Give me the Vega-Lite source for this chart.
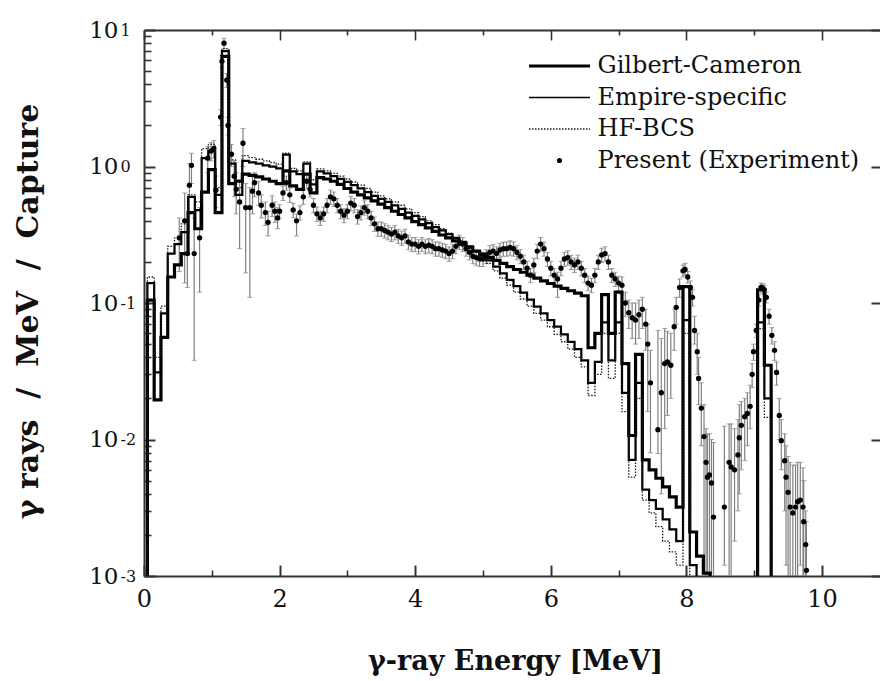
{
"$schema": "https://vega.github.io/schema/vega-lite/v6.json",
"width": 738, "height": 546,
"autosize": {"type": "none"},
"padding": {"left": 144, "top": 30, "right": 0, "bottom": 105},
"background": "white",
"config": {"view": {"stroke": null}, "font": "DejaVu Serif",
 "axis": {"domainColor": "#333", "tickColor": "#333", "domainWidth": 2, "tickWidth": 1.6, "labelColor": "#111", "labelFont": "DejaVu Serif", "titleFont": "DejaVu Serif", "titleColor": "#111", "grid": false, "labelFlush": false, "labelOverlap": false}},
"datasets": {
"m": [
{"E":0,"gc":0.0003,"em":0.0003,"hf":0.0003},
{"E":0.05,"gc":0.105,"em":0.14,"hf":0.155},
{"E":0.15,"gc":0.0195,"em":0.031,"hf":0.04},
{"E":0.25,"gc":0.056,"em":0.084,"hf":0.095},
{"E":0.35,"gc":0.155,"em":0.23,"hf":0.26},
{"E":0.45,"gc":0.19,"em":0.27,"hf":0.3},
{"E":0.55,"gc":0.23,"em":0.33,"hf":0.38},
{"E":0.65,"gc":0.46,"em":0.6,"hf":0.62},
{"E":0.75,"gc":0.35,"em":0.48,"hf":0.55},
{"E":0.85,"gc":0.65,"em":1.15,"hf":1.35},
{"E":0.95,"gc":0.95,"em":1.3,"hf":1.45},
{"E":1.05,"gc":0.46,"em":0.62,"hf":0.7},
{"E":1.15,"gc":6.4,"em":7.0,"hf":7.3},
{"E":1.25,"gc":0.75,"em":1.05,"hf":1.12},
{"E":1.35,"gc":0.78,"em":0.62,"hf":0.7},
{"E":1.45,"gc":0.88,"em":1.1,"hf":1.2},
{"E":1.55,"gc":0.86,"em":1.07,"hf":1.16},
{"E":1.65,"gc":0.84,"em":1.05,"hf":1.13},
{"E":1.75,"gc":0.81,"em":1.02,"hf":1.1},
{"E":1.85,"gc":0.78,"em":1.0,"hf":1.07},
{"E":1.95,"gc":0.75,"em":0.97,"hf":1.04},
{"E":2.05,"gc":0.93,"em":1.22,"hf":1.25},
{"E":2.15,"gc":0.72,"em":0.92,"hf":0.97},
{"E":2.25,"gc":0.68,"em":0.88,"hf":0.93},
{"E":2.35,"gc":0.88,"em":1.05,"hf":1.08},
{"E":2.45,"gc":0.64,"em":0.74,"hf":0.8},
{"E":2.55,"gc":0.83,"em":0.92,"hf":0.96},
{"E":2.65,"gc":0.81,"em":0.89,"hf":0.93},
{"E":2.75,"gc":0.78,"em":0.85,"hf":0.89},
{"E":2.85,"gc":0.74,"em":0.81,"hf":0.85},
{"E":2.95,"gc":0.69,"em":0.77,"hf":0.81},
{"E":3.05,"gc":0.65,"em":0.73,"hf":0.77},
{"E":3.15,"gc":0.62,"em":0.69,"hf":0.73},
{"E":3.25,"gc":0.59,"em":0.65,"hf":0.69},
{"E":3.35,"gc":0.56,"em":0.61,"hf":0.65},
{"E":3.45,"gc":0.53,"em":0.58,"hf":0.61},
{"E":3.55,"gc":0.5,"em":0.55,"hf":0.58},
{"E":3.65,"gc":0.47,"em":0.52,"hf":0.55},
{"E":3.75,"gc":0.445,"em":0.49,"hf":0.52},
{"E":3.85,"gc":0.42,"em":0.46,"hf":0.49},
{"E":3.95,"gc":0.395,"em":0.435,"hf":0.46},
{"E":4.05,"gc":0.375,"em":0.41,"hf":0.43},
{"E":4.15,"gc":0.355,"em":0.385,"hf":0.4},
{"E":4.25,"gc":0.335,"em":0.36,"hf":0.375},
{"E":4.35,"gc":0.315,"em":0.34,"hf":0.35},
{"E":4.45,"gc":0.3,"em":0.32,"hf":0.325},
{"E":4.55,"gc":0.285,"em":0.3,"hf":0.3},
{"E":4.65,"gc":0.27,"em":0.28,"hf":0.28},
{"E":4.75,"gc":0.255,"em":0.26,"hf":0.255},
{"E":4.85,"gc":0.24,"em":0.24,"hf":0.235},
{"E":4.95,"gc":0.228,"em":0.222,"hf":0.215},
{"E":5.05,"gc":0.216,"em":0.205,"hf":0.195},
{"E":5.15,"gc":0.205,"em":0.185,"hf":0.172},
{"E":5.25,"gc":0.195,"em":0.165,"hf":0.152},
{"E":5.35,"gc":0.185,"em":0.148,"hf":0.135},
{"E":5.45,"gc":0.176,"em":0.133,"hf":0.12},
{"E":5.55,"gc":0.168,"em":0.119,"hf":0.107},
{"E":5.65,"gc":0.16,"em":0.106,"hf":0.095},
{"E":5.75,"gc":0.152,"em":0.094,"hf":0.084},
{"E":5.85,"gc":0.145,"em":0.084,"hf":0.075},
{"E":5.95,"gc":0.139,"em":0.075,"hf":0.067},
{"E":6.05,"gc":0.133,"em":0.067,"hf":0.059},
{"E":6.15,"gc":0.128,"em":0.059,"hf":0.052},
{"E":6.25,"gc":0.123,"em":0.052,"hf":0.046},
{"E":6.35,"gc":0.118,"em":0.046,"hf":0.04},
{"E":6.45,"gc":0.113,"em":0.038,"hf":0.034},
{"E":6.55,"gc":0.047,"em":0.026,"hf":0.021},
{"E":6.65,"gc":0.06,"em":0.037,"hf":0.03},
{"E":6.75,"gc":0.115,"em":0.072,"hf":0.06},
{"E":6.85,"gc":0.06,"em":0.038,"hf":0.028},
{"E":6.95,"gc":0.12,"em":0.072,"hf":0.06},
{"E":7.05,"gc":0.036,"em":0.022,"hf":0.016},
{"E":7.15,"gc":0.0107,"em":0.0071,"hf":0.0053},
{"E":7.25,"gc":0.042,"em":0.026,"hf":0.02},
{"E":7.35,"gc":0.0071,"em":0.0043,"hf":0.0036},
{"E":7.45,"gc":0.006,"em":0.0036,"hf":0.0029},
{"E":7.55,"gc":0.0052,"em":0.0031,"hf":0.0023},
{"E":7.65,"gc":0.0045,"em":0.0026,"hf":0.0018},
{"E":7.75,"gc":0.0038,"em":0.0022,"hf":0.0015},
{"E":7.85,"gc":0.0032,"em":0.0018,"hf":0.0012},
{"E":7.95,"gc":0.132,"em":0.075,"hf":0.06},
{"E":8.05,"gc":0.0021,"em":0.0012,"hf":0.0009},
{"E":8.15,"gc":0.0014,"em":0.0003,"hf":0.0003},
{"E":8.25,"gc":0.00105,"em":0.0003,"hf":0.0003},
{"E":8.35,"gc":0.0003,"em":0.0003,"hf":0.0003},
{"E":9.05,"gc":0.125,"em":0.072,"hf":0.065},
{"E":9.15,"gc":0.035,"em":0.02,"hf":0.0145},
{"E":9.25,"gc":0.0003,"em":0.0003,"hf":0.0003},
{"E":10.5,"gc":0.0003,"em":0.0003,"hf":0.0003}
],
"e": [
{"E":0.52,"v":0.3,"lo":0.17,"hi":0.42},
{"E":0.6,"v":0.4,"lo":0.14,"hi":0.64},
{"E":0.64,"v":0.23,"lo":0.13,"hi":0.33},
{"E":0.67,"v":0.73,"lo":0.45,"hi":1.05},
{"E":0.7,"v":1.02,"lo":0.75,"hi":1.25},
{"E":0.74,"v":0.23,"lo":0.038,"hi":0.42},
{"E":0.82,"v":0.3,"lo":0.12,"hi":0.5},
{"E":0.94,"v":1.15,"lo":0.9,"hi":1.4},
{"E":0.99,"v":1.3,"lo":1.1,"hi":1.5},
{"E":1.03,"v":1.36,"lo":1.15,"hi":1.55},
{"E":1.06,"v":0.67,"lo":0.5,"hi":0.85},
{"E":1.13,"v":2.3,"lo":2.0,"hi":2.6},
{"E":1.15,"v":5.9,"lo":5.3,"hi":6.5},
{"E":1.18,"v":8.0,"lo":7.3,"hi":8.7},
{"E":1.22,"v":4.3,"lo":3.8,"hi":4.8},
{"E":1.24,"v":2.0,"lo":1.7,"hi":2.3},
{"E":1.29,"v":1.23,"lo":1.0,"hi":1.45},
{"E":1.33,"v":0.85,"lo":0.6,"hi":1.1},
{"E":1.36,"v":0.68,"lo":0.45,"hi":0.9},
{"E":1.41,"v":0.55,"lo":0.25,"hi":0.8},
{"E":1.46,"v":1.48,"lo":1.0,"hi":1.9},
{"E":1.5,"v":0.5,"lo":0.166,"hi":0.75},
{"E":1.56,"v":0.5,"lo":0.11,"hi":0.7},
{"E":1.6,"v":0.66,"lo":0.45,"hi":0.85},
{"E":1.63,"v":0.76,"lo":0.6,"hi":0.9},
{"E":1.69,"v":0.64,"lo":0.52,"hi":0.78},
{"E":1.73,"v":0.52,"lo":0.42,"hi":0.62},
{"E":1.79,"v":0.46,"lo":0.37,"hi":0.55},
{"E":1.83,"v":0.39,"lo":0.31,"hi":0.47},
{"E":1.89,"v":0.52,"lo":0.43,"hi":0.61},
{"E":1.93,"v":0.47,"lo":0.39,"hi":0.55},
{"E":1.97,"v":0.42,"lo":0.35,"hi":0.5},
{"E":2.0,"v":0.47,"lo":0.414,"hi":0.526},
{"E":2.05,"v":0.64,"lo":0.563,"hi":0.717},
{"E":2.1,"v":0.76,"lo":0.669,"hi":0.851},
{"E":2.15,"v":0.62,"lo":0.546,"hi":0.694},
{"E":2.2,"v":0.48,"lo":0.422,"hi":0.538},
{"E":2.25,"v":0.4,"lo":0.31,"hi":0.448},
{"E":2.3,"v":0.46,"lo":0.405,"hi":0.515},
{"E":2.35,"v":0.6,"lo":0.528,"hi":0.672},
{"E":2.4,"v":0.78,"lo":0.686,"hi":0.874},
{"E":2.45,"v":0.68,"lo":0.598,"hi":0.762},
{"E":2.5,"v":0.52,"lo":0.458,"hi":0.582},
{"E":2.55,"v":0.45,"lo":0.396,"hi":0.504},
{"E":2.6,"v":0.42,"lo":0.37,"hi":0.47},
{"E":2.65,"v":0.45,"lo":0.396,"hi":0.504},
{"E":2.7,"v":0.52,"lo":0.458,"hi":0.582},
{"E":2.75,"v":0.6,"lo":0.528,"hi":0.672},
{"E":2.8,"v":0.58,"lo":0.51,"hi":0.65},
{"E":2.85,"v":0.52,"lo":0.458,"hi":0.582},
{"E":2.9,"v":0.47,"lo":0.414,"hi":0.526},
{"E":2.95,"v":0.44,"lo":0.387,"hi":0.493},
{"E":3.0,"v":0.47,"lo":0.414,"hi":0.526},
{"E":3.05,"v":0.54,"lo":0.475,"hi":0.605},
{"E":3.1,"v":0.52,"lo":0.458,"hi":0.582},
{"E":3.15,"v":0.43,"lo":0.378,"hi":0.482},
{"E":3.2,"v":0.46,"lo":0.405,"hi":0.515},
{"E":3.25,"v":0.5,"lo":0.44,"hi":0.56},
{"E":3.3,"v":0.47,"lo":0.414,"hi":0.526},
{"E":3.35,"v":0.42,"lo":0.37,"hi":0.47},
{"E":3.4,"v":0.38,"lo":0.334,"hi":0.426},
{"E":3.45,"v":0.35,"lo":0.308,"hi":0.392},
{"E":3.5,"v":0.35,"lo":0.308,"hi":0.392},
{"E":3.55,"v":0.34,"lo":0.299,"hi":0.381},
{"E":3.6,"v":0.33,"lo":0.29,"hi":0.37},
{"E":3.65,"v":0.32,"lo":0.282,"hi":0.358},
{"E":3.7,"v":0.33,"lo":0.29,"hi":0.37},
{"E":3.75,"v":0.31,"lo":0.273,"hi":0.347},
{"E":3.8,"v":0.3,"lo":0.264,"hi":0.336},
{"E":3.85,"v":0.31,"lo":0.273,"hi":0.347},
{"E":3.9,"v":0.28,"lo":0.246,"hi":0.314},
{"E":3.95,"v":0.27,"lo":0.238,"hi":0.302},
{"E":4.0,"v":0.27,"lo":0.238,"hi":0.302},
{"E":4.05,"v":0.26,"lo":0.229,"hi":0.291},
{"E":4.1,"v":0.27,"lo":0.238,"hi":0.302},
{"E":4.15,"v":0.26,"lo":0.229,"hi":0.291},
{"E":4.2,"v":0.265,"lo":0.233,"hi":0.297},
{"E":4.25,"v":0.26,"lo":0.229,"hi":0.291},
{"E":4.3,"v":0.25,"lo":0.22,"hi":0.28},
{"E":4.35,"v":0.25,"lo":0.22,"hi":0.28},
{"E":4.4,"v":0.245,"lo":0.216,"hi":0.274},
{"E":4.45,"v":0.24,"lo":0.211,"hi":0.269},
{"E":4.5,"v":0.23,"lo":0.202,"hi":0.258},
{"E":4.55,"v":0.24,"lo":0.211,"hi":0.269},
{"E":4.6,"v":0.26,"lo":0.229,"hi":0.291},
{"E":4.65,"v":0.28,"lo":0.246,"hi":0.314},
{"E":4.7,"v":0.27,"lo":0.238,"hi":0.302},
{"E":4.75,"v":0.25,"lo":0.22,"hi":0.28},
{"E":4.8,"v":0.235,"lo":0.207,"hi":0.263},
{"E":4.85,"v":0.22,"lo":0.194,"hi":0.246},
{"E":4.9,"v":0.215,"lo":0.189,"hi":0.241},
{"E":4.95,"v":0.21,"lo":0.185,"hi":0.235},
{"E":5.0,"v":0.21,"lo":0.185,"hi":0.235},
{"E":5.05,"v":0.22,"lo":0.194,"hi":0.246},
{"E":5.1,"v":0.235,"lo":0.207,"hi":0.263},
{"E":5.15,"v":0.24,"lo":0.211,"hi":0.269},
{"E":5.2,"v":0.23,"lo":0.202,"hi":0.258},
{"E":5.25,"v":0.245,"lo":0.216,"hi":0.274},
{"E":5.3,"v":0.25,"lo":0.22,"hi":0.28},
{"E":5.35,"v":0.25,"lo":0.22,"hi":0.28},
{"E":5.4,"v":0.255,"lo":0.224,"hi":0.286},
{"E":5.45,"v":0.25,"lo":0.22,"hi":0.28},
{"E":5.5,"v":0.235,"lo":0.207,"hi":0.263},
{"E":5.55,"v":0.22,"lo":0.194,"hi":0.246},
{"E":5.6,"v":0.2,"lo":0.176,"hi":0.224},
{"E":5.65,"v":0.18,"lo":0.158,"hi":0.202},
{"E":5.7,"v":0.16,"lo":0.141,"hi":0.179},
{"E":5.75,"v":0.19,"lo":0.167,"hi":0.213},
{"E":5.8,"v":0.24,"lo":0.211,"hi":0.269},
{"E":5.85,"v":0.27,"lo":0.238,"hi":0.302},
{"E":5.9,"v":0.25,"lo":0.22,"hi":0.28},
{"E":5.95,"v":0.21,"lo":0.185,"hi":0.235},
{"E":6.0,"v":0.18,"lo":0.158,"hi":0.202},
{"E":6.05,"v":0.16,"lo":0.141,"hi":0.179},
{"E":6.1,"v":0.15,"lo":0.11,"hi":0.168},
{"E":6.15,"v":0.18,"lo":0.158,"hi":0.202},
{"E":6.2,"v":0.21,"lo":0.185,"hi":0.235},
{"E":6.25,"v":0.215,"lo":0.189,"hi":0.241},
{"E":6.3,"v":0.2,"lo":0.176,"hi":0.224},
{"E":6.35,"v":0.19,"lo":0.167,"hi":0.213},
{"E":6.4,"v":0.2,"lo":0.176,"hi":0.224},
{"E":6.45,"v":0.18,"lo":0.158,"hi":0.202},
{"E":6.5,"v":0.16,"lo":0.141,"hi":0.179},
{"E":6.55,"v":0.14,"lo":0.123,"hi":0.157},
{"E":6.6,"v":0.135,"lo":0.119,"hi":0.151},
{"E":6.65,"v":0.16,"lo":0.141,"hi":0.179},
{"E":6.7,"v":0.2,"lo":0.176,"hi":0.224},
{"E":6.75,"v":0.225,"lo":0.198,"hi":0.252},
{"E":6.8,"v":0.23,"lo":0.202,"hi":0.258},
{"E":6.85,"v":0.2,"lo":0.176,"hi":0.224},
{"E":6.9,"v":0.16,"lo":0.141,"hi":0.179},
{"E":6.95,"v":0.15,"lo":0.132,"hi":0.168},
{"E":7.0,"v":0.14,"lo":0.123,"hi":0.157},
{"E":7.05,"v":0.135,"lo":0.115,"hi":0.155},
{"E":7.1,"v":0.1,"lo":0.08,"hi":0.12},
{"E":7.15,"v":0.085,"lo":0.065,"hi":0.105},
{"E":7.2,"v":0.078,"lo":0.055,"hi":0.1},
{"E":7.25,"v":0.075,"lo":0.05,"hi":0.1},
{"E":7.3,"v":0.082,"lo":0.055,"hi":0.105},
{"E":7.35,"v":0.09,"lo":0.065,"hi":0.11},
{"E":7.4,"v":0.07,"lo":0.045,"hi":0.09},
{"E":7.43,"v":0.05,"lo":0.016,"hi":0.07},
{"E":7.47,"v":0.026,"lo":0.008,"hi":0.045},
{"E":7.58,"v":0.0118,"lo":0.0079,"hi":0.063},
{"E":7.63,"v":0.022,"lo":0.004,"hi":0.055},
{"E":7.68,"v":0.036,"lo":0.012,"hi":0.065},
{"E":7.72,"v":0.037,"lo":0.015,"hi":0.062},
{"E":7.77,"v":0.035,"lo":0.02,"hi":0.06},
{"E":7.82,"v":0.067,"lo":0.045,"hi":0.09},
{"E":7.85,"v":0.093,"lo":0.07,"hi":0.11},
{"E":7.9,"v":0.13,"lo":0.11,"hi":0.15},
{"E":7.95,"v":0.172,"lo":0.155,"hi":0.19},
{"E":7.98,"v":0.176,"lo":0.16,"hi":0.195},
{"E":8.02,"v":0.155,"lo":0.14,"hi":0.17},
{"E":8.06,"v":0.13,"lo":0.115,"hi":0.145},
{"E":8.09,"v":0.11,"lo":0.095,"hi":0.125},
{"E":8.12,"v":0.063,"lo":0.05,"hi":0.08},
{"E":8.16,"v":0.044,"lo":0.03,"hi":0.06},
{"E":8.18,"v":0.028,"lo":0.018,"hi":0.04},
{"E":8.22,"v":0.017,"lo":0.009,"hi":0.026},
{"E":8.26,"v":0.0105,"lo":0.001,"hi":0.018},
{"E":8.29,"v":0.0068,"lo":0.0009,"hi":0.012},
{"E":8.31,"v":0.0053,"lo":0.0009,"hi":0.011},
{"E":8.34,"v":0.0055,"lo":0.0009,"hi":0.011},
{"E":8.37,"v":0.0048,"lo":0.0009,"hi":0.01},
{"E":8.4,"v":0.0027,"lo":0.0009,"hi":0.0095},
{"E":8.56,"v":0.0032,"lo":0.0012,"hi":0.0125},
{"E":8.63,"v":0.0068,"lo":0.0008,"hi":0.013},
{"E":8.66,"v":0.0063,"lo":0.0008,"hi":0.013},
{"E":8.71,"v":0.006,"lo":0.0018,"hi":0.012},
{"E":8.76,"v":0.0077,"lo":0.003,"hi":0.014},
{"E":8.78,"v":0.0103,"lo":0.004,"hi":0.018},
{"E":8.81,"v":0.0127,"lo":0.006,"hi":0.019},
{"E":8.86,"v":0.0147,"lo":0.007,"hi":0.02},
{"E":8.9,"v":0.0155,"lo":0.009,"hi":0.022},
{"E":8.94,"v":0.0175,"lo":0.012,"hi":0.025},
{"E":8.97,"v":0.03,"lo":0.024,"hi":0.036},
{"E":8.99,"v":0.044,"lo":0.038,"hi":0.05},
{"E":9.03,"v":0.063,"lo":0.056,"hi":0.07},
{"E":9.07,"v":0.105,"lo":0.095,"hi":0.115},
{"E":9.1,"v":0.13,"lo":0.12,"hi":0.14},
{"E":9.13,"v":0.128,"lo":0.118,"hi":0.138},
{"E":9.15,"v":0.125,"lo":0.115,"hi":0.135},
{"E":9.18,"v":0.11,"lo":0.1,"hi":0.12},
{"E":9.22,"v":0.08,"lo":0.07,"hi":0.09},
{"E":9.26,"v":0.058,"lo":0.05,"hi":0.066},
{"E":9.3,"v":0.045,"lo":0.038,"hi":0.052},
{"E":9.33,"v":0.031,"lo":0.025,"hi":0.037},
{"E":9.37,"v":0.015,"lo":0.01,"hi":0.02},
{"E":9.4,"v":0.0098,"lo":0.006,"hi":0.014},
{"E":9.45,"v":0.007,"lo":0.003,"hi":0.011},
{"E":9.47,"v":0.0053,"lo":0.0012,"hi":0.009},
{"E":9.5,"v":0.0041,"lo":0.001,"hi":0.0075},
{"E":9.53,"v":0.0032,"lo":0.001,"hi":0.0068},
{"E":9.57,"v":0.0029,"lo":0.001,"hi":0.0065},
{"E":9.61,"v":0.0032,"lo":0.001,"hi":0.0065},
{"E":9.64,"v":0.0035,"lo":0.001,"hi":0.0068},
{"E":9.68,"v":0.0036,"lo":0.0012,"hi":0.0068},
{"E":9.72,"v":0.0032,"lo":0.001,"hi":0.0062},
{"E":9.73,"v":0.0025,"lo":0.001,"hi":0.005},
{"E":9.76,"v":0.0017,"lo":0.0009,"hi":0.003},
{"E":9.77,"v":0.0011,"lo":0.0009,"hi":0.0025}
]
},
"layer": [
{
 "data": {"name": "e"},
 "mark": {"type": "rule", "color": "#808080", "strokeWidth": 1.2, "clip": true},
 "encoding": {
  "x": {"field": "E", "type": "quantitative", "scale": {"domain": [0, 10.885], "nice": false, "zero": false},
   "axis": {"orient": "bottom", "values": [0,2,4,6,8,10], "tickSize": -11, "tickWidth": 2, "labelFontSize": 24, "labelPadding": 22, "labelBaseline": "top",
    "title": "γ-ray Energy [MeV]", "titleFontSize": 27, "titleFontWeight": "bold", "titleX": 371, "titleY": 93, "titleBaseline": "alphabetic"}},
  "y": {"field": "lo", "type": "quantitative", "scale": {"type": "log", "domain": [0.001, 10], "nice": false},
   "axis": {"orient": "left", "values": [0.001,0.01,0.1,1,10], "tickSize": -11, "tickWidth": 2, "labelExpr": "'10'", "labelFontSize": 23, "labelPadding": 37, "labelBaseline": "middle",
    "title": "γ\u00a0rays\u00a0 / \u00a0MeV\u00a0 / \u00a0Capture", "titleFontSize": 30, "titleFontWeight": "bold", "titleX": -107, "titleY": 281, "titleBaseline": "alphabetic"}},
  "y2": {"field": "hi"}
 }
},
{
 "data": {"name": "e"},
 "mark": {"type": "tick", "orient": "horizontal", "size": 5, "thickness": 1, "color": "#808080", "clip": true},
 "encoding": {
  "x": {"field": "E", "type": "quantitative", "scale": {"domain": [0, 10.885], "nice": false, "zero": false},
   "axis": {"orient": "bottom", "values": [1,3,5,7,9], "tickSize": -6, "labels": false, "domain": false, "title": null}},
  "y": {"field": "lo", "type": "quantitative", "scale": {"type": "log", "domain": [0.001, 10], "nice": false},
   "axis": {"orient": "left", "values": [0.002,0.003,0.004,0.005,0.006,0.007,0.008,0.009,0.02,0.03,0.04,0.05,0.06,0.07,0.08,0.09,0.2,0.3,0.4,0.5,0.6,0.7,0.8,0.9,2,3,4,5,6,7,8,9], "tickSize": -7, "labels": false, "domain": false, "title": null}}
 }
},
{
 "data": {"name": "e"},
 "mark": {"type": "tick", "orient": "horizontal", "size": 5, "thickness": 1, "color": "#808080", "clip": true},
 "encoding": {
  "x": {"field": "E", "type": "quantitative", "scale": {"domain": [0, 10.885], "nice": false, "zero": false},
   "axis": {"orient": "top", "values": [0,2,4,6,8,10], "tickSize": -10, "labels": false, "domain": true, "title": null}},
  "y": {"field": "hi", "type": "quantitative", "scale": {"type": "log", "domain": [0.001, 10], "nice": false},
   "axis": {"orient": "left", "values": [0.001,0.01,0.1,1,10], "ticks": false, "tickSize": 0, "domain": false, "labelExpr": "'' + round(log(datum.value)/LN10)", "labelFontSize": 16, "labelAlign": "left", "labelPadding": 24, "labelDy": -11, "labelBaseline": "middle", "title": null}}
 }
},
{
 "data": {"name": "m"},
 "transform": [{"fold": ["gc", "em", "hf"], "as": ["s", "v"]}],
 "mark": {"type": "line", "interpolate": "step-after", "clip": true},
 "encoding": {
  "x": {"field": "E", "type": "quantitative", "scale": {"domain": [0, 10.885], "nice": false, "zero": false},
   "axis": {"orient": "top", "values": [1,3,5,7,9], "tickSize": -5, "labels": false, "domain": false, "title": null}},
  "y": {"field": "v", "type": "quantitative", "scale": {"type": "log", "domain": [0.001, 10], "nice": false},
   "axis": {"orient": "right", "values": [0.001,0.01,0.1,1,10], "tickSize": -11, "tickWidth": 2, "labels": false, "domain": true, "title": null}},
  "color": {"field": "s", "type": "nominal",
   "scale": {"domain": ["gc", "em", "hf", "exp"], "range": ["#000000", "#000000", "#1a1a1a", "#000000"]},
   "legend": {"orient": "none", "legendX": 383, "legendY": 24, "title": null, "direction": "vertical",
    "labelFont": "DejaVu Serif", "labelFontSize": 24, "labelColor": "#111", "labelLimit": 0, "symbolSize": 400, "symbolOffset": 20.5, "labelOffset": 26, "rowPadding": 7.5,
    "labelExpr": "datum.value == 'gc' ? 'Gilbert-Cameron' : datum.value == 'em' ? 'Empire-specific' : datum.value == 'hf' ? 'HF-BCS' : 'Present (Experiment)'",
    "encode": {"symbols": {"update": {
      "shape": {"signal": "datum.value == 'exp' ? 'circle' : 'stroke'"},
      "size": {"signal": "datum.value == 'exp' ? 26 : 3721"},
      "strokeWidth": {"signal": "datum.value == 'gc' ? 3.2 : datum.value == 'exp' ? 0 : 1.3"},
      "strokeDash": {"signal": "datum.value == 'hf' ? [1.5, 1.5] : [1, 0]"},
      "fill": {"signal": "datum.value == 'exp' ? '#000' : 'transparent'"},
      "stroke": {"value": "#000"},
      "opacity": {"value": 1}
    }}}}},
  "strokeWidth": {"field": "s", "type": "nominal", "scale": {"domain": ["gc", "em", "hf"], "range": [3.2, 1.3, 1.3]}, "legend": null},
  "strokeDash": {"field": "s", "type": "nominal", "scale": {"domain": ["gc", "em", "hf"], "range": [[1, 0], [1, 0], [1.5, 1.5]]}, "legend": null}
 }
},
{
 "data": {"name": "e"},
 "mark": {"type": "point", "filled": true, "size": 28, "opacity": 1, "clip": true},
 "encoding": {
  "x": {"field": "E", "type": "quantitative", "scale": {"domain": [0, 10.885], "nice": false, "zero": false}, "axis": null},
  "y": {"field": "v", "type": "quantitative", "scale": {"type": "log", "domain": [0.001, 10], "nice": false}, "axis": null},
  "color": {"datum": "exp", "type": "nominal"}
 }
}
],
"resolve": {"axis": {"x": "independent", "y": "independent"}}
}
